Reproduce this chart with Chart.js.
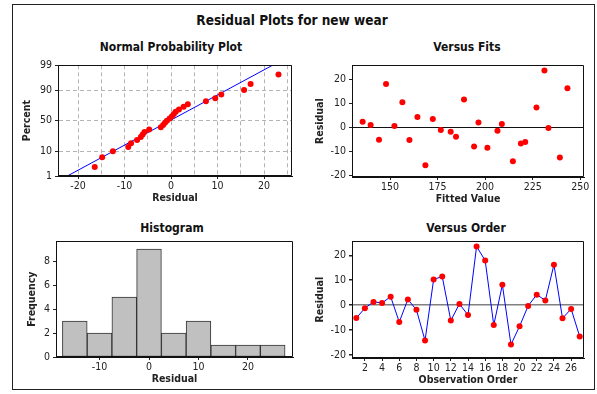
<!DOCTYPE html>
<html>
<head>
<meta charset="utf-8">
<script src="https://cdn.jsdelivr.net/npm/chart.js@4.4.1/dist/chart.umd.min.js"></script>
<style>
  body { margin: 0; background: #fff; }
  #frame { position: absolute; left: 12px; top: 4px; width: 581px; height: 384px; border: 1px solid #222; }
  canvas { position: absolute; }
  .ttl { position: absolute; font-family: 'DejaVu Sans Condensed', 'DejaVu Sans', sans-serif; font-weight: bold;
         color: #111; white-space: nowrap; transform: translate(-50%, -50%); }
</style>
</head>
<body>
<div id="frame"></div>
<div class="ttl" style="left:292px;top:20px;font-size:13.5px">Residual Plots for new wear</div>
<div class="ttl" style="left:171px;top:47px;font-size:12px">Normal Probability Plot</div>
<div class="ttl" style="left:467px;top:47px;font-size:12px">Versus Fits</div>
<div class="ttl" style="left:172px;top:228px;font-size:12px">Histogram</div>
<div class="ttl" style="left:466px;top:228px;font-size:12px">Versus Order</div>
<canvas id="npp"></canvas>
<canvas id="fits"></canvas>
<canvas id="hist"></canvas>
<canvas id="order"></canvas>
<script>
// normal probability plot (sorted residuals and their plotted percents)
const nppResidual = [-16.4, -14.8, -12.5, -9.2, -8.6, -7.3, -6.5, -6.1, -5.7, -4.7, -2.2, -1.7, -1.3, -0.9,
  -0.3, 0.2, 0.6, 1.0, 1.7, 2.7, 3.6, 7.5, 9.5, 10.8, 15.7, 17.1, 23.1];
const nppPercent = [2.6, 6.2, 9.9, 13.5, 17.2, 20.8, 24.5, 28.1, 31.8, 35.4, 39.1, 42.7, 46.4, 50.0,
  53.6, 57.3, 60.9, 64.6, 68.2, 71.9, 75.5, 79.2, 82.8, 86.5, 90.1, 93.8, 97.4];
const refLineResidual = [-22.3, 21.8];
const refLinePercent = [1, 99];
const percentTicks = [1, 10, 50, 90, 99];

// by observation order
const observation = [1, 2, 3, 4, 5, 6, 7, 8, 9, 10, 11, 12, 13, 14, 15, 16, 17, 18, 19, 20, 21, 22, 23, 24, 25, 26, 27];
const fittedValue = [144.2, 176.7, 208.8, 139.8, 172.5, 218.8, 135.6, 181.9, 214.6, 156.5, 188.9, 221.1, 152.3, 184.7,
  231.2, 147.9, 194.2, 227.0, 168.6, 201.2, 233.3, 164.4, 196.5, 243.3, 160.2, 206.5, 239.3];
const residual = [-5.2, -1.2, 1.3, 0.9, 3.4, -6.8, 2.3, -1.9, -14.2, 10.3, 11.5, -6.2, 0.5, -4.0,
  23.5, 17.9, -8.0, 8.2, -15.8, -8.5, -0.3, 4.2, 1.9, 16.2, -5.3, -1.5, -12.6];

// histogram
const binCenter = [-15, -10, -5, 0, 5, 10, 15, 20, 25];
const binCount = [3, 2, 5, 9, 2, 3, 1, 1, 1];

const INK = '#222';
const RED = '#ff0000';
const BLUE = '#0000ff';
const FAMILY = "'DejaVu Sans Condensed', 'DejaVu Sans', sans-serif";
const tickFont = { family: FAMILY, size: 10.5 };
const axisFont = { family: FAMILY, size: 10.5, weight: 'bold' };
const HALF_LH = 6.3;

// inverse normal cdf (Acklam)
function probit(p) {
  const a = [-39.69683028665376, 220.9460984245205, -275.9285104469687, 138.3577518672690, -30.66479806614716, 2.506628277459239];
  const b = [-54.47609879822406, 161.5858368580409, -155.6989798598866, 66.80131188771972, -13.28068155288572];
  const c = [-0.007784894002430293, -0.3223964580411365, -2.400758277161838, -2.549732539343734, 4.374664141464968, 2.938163982698783];
  const d = [0.007784695709041462, 0.3224671290700398, 2.445134137142996, 3.754408661907416];
  const lo = 0.02425;
  if (p < lo || p > 1 - lo) {
    const q = Math.sqrt(-2 * Math.log(p < lo ? p : 1 - p));
    const v = (((((c[0] * q + c[1]) * q + c[2]) * q + c[3]) * q + c[4]) * q + c[5]) /
              ((((d[0] * q + d[1]) * q + d[2]) * q + d[3]) * q + 1);
    return p < lo ? v : -v;
  }
  const q = p - 0.5, r = q * q;
  return (((((a[0] * r + a[1]) * r + a[2]) * r + a[3]) * r + a[4]) * r + a[5]) * q /
         (((((b[0] * r + b[1]) * r + b[2]) * r + b[3]) * r + b[4]) * r + 1);
}

// box round the plot area, as in the Minitab panels
const plotFrame = {
  id: 'plotFrame',
  afterDraw(chart) {
    const { ctx, chartArea: a } = chart;
    const l = Math.round(a.left) + 0.5, t = Math.round(a.top) + 0.5;
    const r = Math.round(a.right) - 0.5, b = Math.round(a.bottom) - 0.5;
    ctx.save();
    ctx.strokeStyle = '#111';
    ctx.lineWidth = 1;
    ctx.setLineDash([]);
    ctx.beginPath();
    ctx.moveTo(l, t);
    ctx.lineTo(r, t);
    ctx.lineTo(r, b);
    ctx.lineTo(l, b);
    ctx.closePath();
    ctx.stroke();
    ctx.restore();
  }
};

const tickVal = ctx => (ctx.tick ? ctx.tick.value : NaN);

function xAxis(o) {
  return {
    type: 'linear', position: 'bottom', min: o.min, max: o.max, offset: false,
    afterBuildTicks: s => { s.ticks = o.ticks.map(v => ({ value: v })); },
    afterFit: s => { s.height = o.height; },
    ticks: { autoSkip: false, maxRotation: 0, padding: 1, color: INK, font: tickFont,
      callback: v => (o.labels.includes(v) ? String(v) : '') },
    grid: {
      offset: false,
      drawOnChartArea: !!o.gridColor,
      color: o.gridColor || 'transparent',
      tickLength: 3,
      tickColor: ctx => (o.labels.includes(tickVal(ctx)) ? INK : 'transparent')
    },
    border: { display: true, color: '#111', width: 1, dash: o.dash || [] },
    title: { display: true, text: o.title, color: INK, font: axisFont, padding: { top: 0, bottom: o.titlePad } }
  };
}

function yAxis(o) {
  return {
    type: 'linear', position: 'left', min: o.min, max: o.max,
    afterBuildTicks: s => { s.ticks = o.ticks.map(v => ({ value: v })); },
    afterFit: s => { s.width = o.width; },
    ticks: { autoSkip: false, padding: 3, color: INK, font: tickFont,
      callback: o.format || (v => String(v)) },
    grid: {
      offset: false,
      drawOnChartArea: !!o.gridColor,
      color: o.gridColor || 'transparent',
      lineWidth: o.gridWidth || 1,
      tickLength: 3,
      tickColor: INK
    },
    border: { display: true, color: '#111', width: 1, dash: o.dash || [] },
    title: { display: true, text: o.title, color: INK, font: axisFont, padding: { top: o.titlePad, bottom: 0 } }
  };
}

// box = canvas rect, plot = wanted plot area, tx/ty = wanted axis title centres
function setup(id, box, plot, tx, ty) {
  const cv = document.getElementById(id);
  cv.width = box.w;
  cv.height = box.h;
  cv.style.left = box.x + 'px';
  cv.style.top = box.y + 'px';
  return {
    yWidth: plot.l - box.x,
    xHeight: box.y + box.h - plot.b,
    padding: { left: 0, top: plot.t - box.y, right: box.x + box.w - plot.r, bottom: 0 },
    yTitlePad: (tx - box.x) - HALF_LH,
    xTitlePad: (box.y + box.h - ty) - HALF_LH
  };
}

function baseOptions(p, scales) {
  return {
    responsive: false, animation: false, devicePixelRatio: 1,
    layout: { padding: p.padding },
    plugins: { legend: { display: false }, tooltip: { enabled: false } },
    scales: scales
  };
}

// --- Normal probability plot ---
let p = setup('npp', { x: 13, y: 56, w: 292, h: 154 }, { l: 58, t: 65, r: 292, b: 176 }, 27, 198);
new Chart(document.getElementById('npp'), {
  type: 'scatter',
  data: {
    datasets: [
      { data: nppResidual.map((v, i) => ({ x: v, y: probit(nppPercent[i] / 100) })),
        backgroundColor: RED, pointRadius: 3, pointBorderWidth: 0 },
      { type: 'line', data: refLineResidual.map((v, i) => ({ x: v, y: probit(refLinePercent[i] / 100) })),
        borderColor: BLUE, borderWidth: 1, pointRadius: 0, fill: false }
    ]
  },
  options: baseOptions(p, {
    x: xAxis({ min: -24.3, max: 26.0, ticks: [-20, -15, -10, -5, 0, 5, 10, 15, 20, 25], labels: [-20, -10, 0, 10, 20],
      height: p.xHeight, title: 'Residual', titlePad: p.xTitlePad, gridColor: '#b4b4b4', dash: [4, 3] }),
    y: yAxis({ min: probit(0.01), max: probit(0.99), ticks: percentTicks.map(v => probit(v / 100)),
      format: (v, i) => String(percentTicks[i]), width: p.yWidth, title: 'Percent', titlePad: p.yTitlePad,
      gridColor: '#b4b4b4', dash: [4, 3] })
  }),
  plugins: [plotFrame]
});

// --- Versus fits ---
p = setup('fits', { x: 306, y: 56, w: 290, h: 154 }, { l: 352, t: 65, r: 584, b: 177 }, 320, 199);
new Chart(document.getElementById('fits'), {
  type: 'scatter',
  data: {
    datasets: [
      { data: fittedValue.map((v, i) => ({ x: v, y: residual[i] })),
        backgroundColor: RED, pointRadius: 3, pointBorderWidth: 0 }
    ]
  },
  options: baseOptions(p, {
    x: xAxis({ min: 130, max: 252, ticks: [150, 175, 200, 225, 250], labels: [150, 175, 200, 225, 250],
      height: p.xHeight, title: 'Fitted Value', titlePad: p.xTitlePad }),
    y: yAxis({ min: -20.7, max: 25.7, ticks: [-20, -10, 0, 10, 20], width: p.yWidth,
      title: 'Residual', titlePad: p.yTitlePad,
      gridColor: ctx => (tickVal(ctx) === 0 ? '#111' : 'transparent') })
  }),
  plugins: [plotFrame]
});

// --- Histogram ---
p = setup('hist', { x: 13, y: 232, w: 292, h: 157 }, { l: 56, t: 241, r: 293, b: 357 }, 32, 379);
new Chart(document.getElementById('hist'), {
  type: 'bar',
  data: {
    datasets: [
      { data: binCenter.map((v, i) => ({ x: v, y: binCount[i] })),
        backgroundColor: '#c0c0c0', borderColor: '#333', borderWidth: 1, borderSkipped: false,
        barPercentage: 1, categoryPercentage: 1 }
    ]
  },
  options: baseOptions(p, {
    x: xAxis({ min: -18.8, max: 29.1, ticks: [-10, 0, 10, 20], labels: [-10, 0, 10, 20],
      height: p.xHeight, title: 'Residual', titlePad: p.xTitlePad }),
    y: yAxis({ min: 0, max: 9.65, ticks: [0, 2, 4, 6, 8], width: p.yWidth,
      title: 'Frequency', titlePad: p.yTitlePad })
  }),
  plugins: [plotFrame]
});

// --- Versus order ---
p = setup('order', { x: 306, y: 232, w: 290, h: 157 }, { l: 352, t: 241, r: 584, b: 358 }, 320, 380);
new Chart(document.getElementById('order'), {
  type: 'line',
  data: {
    datasets: [
      { data: observation.map((v, i) => ({ x: v, y: residual[i] })),
        borderColor: BLUE, borderWidth: 1, tension: 0, fill: false,
        pointBackgroundColor: RED, pointRadius: 3, pointBorderWidth: 0 }
    ]
  },
  options: baseOptions(p, {
    x: xAxis({ min: 0.5, max: 27.5, ticks: [2, 4, 6, 8, 10, 12, 14, 16, 18, 20, 22, 24, 26],
      labels: [2, 4, 6, 8, 10, 12, 14, 16, 18, 20, 22, 24, 26],
      height: p.xHeight, title: 'Observation Order', titlePad: p.xTitlePad }),
    y: yAxis({ min: -21.2, max: 25.6, ticks: [-20, -10, 0, 10, 20], width: p.yWidth,
      title: 'Residual', titlePad: p.yTitlePad, gridWidth: 1.5,
      gridColor: ctx => (tickVal(ctx) === 0 ? '#808080' : 'transparent') })
  }),
  plugins: [plotFrame]
});
</script>
</body>
</html>
